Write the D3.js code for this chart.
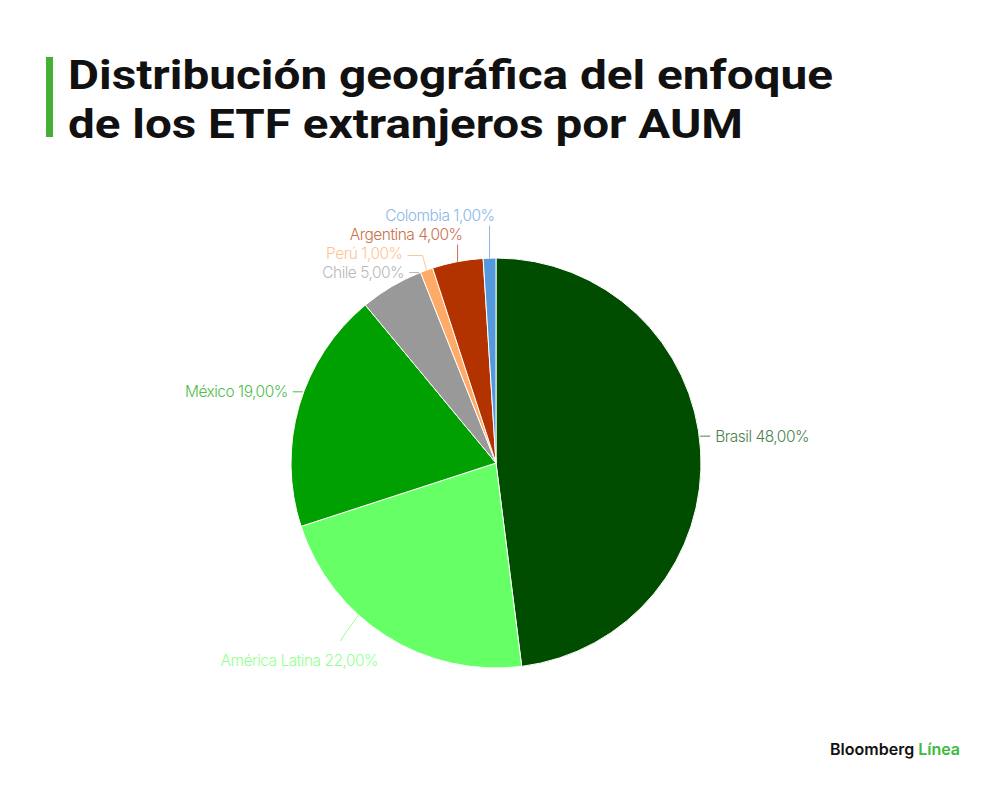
<!DOCTYPE html>
<html>
<head>
<meta charset="utf-8">
<script src="https://cdn.jsdelivr.net/npm/d3@7"></script>
<style>
  body { margin: 0; background: #fff; }
  svg { display: block; }
</style>
</head>
<body>
<svg width="1000" height="790"></svg>
<script>
// chart data, clockwise from 12 o'clock
var categories = ["Brasil", "América Latina", "México", "Chile", "Perú", "Argentina", "Colombia"];
var values = [48, 22, 19, 5, 1, 4, 1];
var colors = ["#004d00", "#66ff66", "#00a000", "#999999", "#ffaa66", "#b33300", "#5599dd"];
var titleLines = ["Distribución geográfica del enfoque", "de los ETF extranjeros por AUM"];

var svg = d3.select("svg"),
    cx = 496, cy = 463, r = 205;

// number format with comma decimals
var fmt = d3.formatLocale({decimal: ",", thousands: ".", grouping: [3], currency: ["", ""]}).format(".2f");

// title + green bar
svg.append("rect").attr("x", 46).attr("y", 57).attr("width", 7).attr("height", 80).attr("fill", "#45b035");
svg.selectAll(".title")
  .data(titleLines)
  .enter().append("text")
    .attr("class", "title")
    .attr("x", 68)
    .attr("y", function(d, i) { return 89 + i * 49; })
    .attr("font-family", "Roboto, sans-serif")
    .attr("font-weight", 700)
    .attr("font-size", 41)
    .attr("fill", "#111")
    .attr("textLength", function(d, i) { return i == 0 ? 765 : 675; })
    .attr("lengthAdjust", "spacingAndGlyphs")
    .text(function(d) { return d; });

var data = categories.map(function(c, i) { return {name: c, value: values[i], color: colors[i]}; });

var pie = d3.pie().sort(null).value(function(d) { return d.value; });
var arc = d3.arc().innerRadius(0).outerRadius(r);
var arcs = pie(data);

var g = svg.append("g").attr("transform", "translate(" + cx + "," + cy + ")");

g.selectAll("path")
  .data(arcs)
  .enter().append("path")
    .attr("d", arc)
    .attr("fill", function(d) { return d.data.color; })
    .attr("stroke", "#fff")
    .attr("stroke-width", 1);

//LABELS
function lighter(c) { return d3.interpolateRgb(c, "#fff")(0.3); }

arcs.forEach(function(a) {
  var mid = (a.startAngle + a.endAngle) / 2;
  a.mid = mid;
  a.px = r * Math.sin(mid);
  a.py = -r * Math.cos(mid);
  a.right = Math.sin(mid) >= 0;
  a.bottom = a.py > 0.7 * r;
  a.ly = a.bottom ? a.py + 24 : a.py - 14;
});

// stack left side labels upwards so they don't overlap
var left = arcs.filter(function(a) { return !a.right && !a.bottom; })
  .sort(function(a, b) { return b.ly - a.ly; });
for (var i = 1; i < left.length; i++) {
  left[i].ly = Math.min(left[i].ly, left[i - 1].ly - 19);
}

var lab = g.append("g")
  .attr("font-family", "Inter, sans-serif")
  .attr("font-weight", 300)
  .attr("font-size", 15.5)
  .attr("letter-spacing", "-0.5");

arcs.forEach(function(a) {
  var col = lighter(a.data.color);
  var txt = a.data.name + " " + fmt(a.data.value) + "%";
  var y = a.ly, lx, anchor, path;

  if (a.bottom) {
    var s = a.mid + 0.17;
    var sx = r * Math.sin(s), sy = -r * Math.cos(s);
    path = [[sx, sy], [sx - 15, sy + 21], [sx - 18, sy + 26]];
    lx = a.px - 8; anchor = "end";
  } else {
    // angle of the pie edge at label height
    var ex = Math.sqrt(Math.max(0, r * r - y * y));
    var ang = a.right ? Math.atan2(ex, -y) : 2 * Math.PI - Math.atan2(ex, -y);
    var inside = Math.abs(y) < r - 5 && ang >= a.startAngle && ang <= a.endAngle;
    if (inside) {
      var dir = a.right ? 1 : -1;
      path = [[dir * (ex + 1), y], [dir * (ex + 11), y]];
      lx = dir * (ex + 16); anchor = a.right ? "start" : "end";
    } else if (a.py - y >= 22) {
      path = [[a.px, y + 10], [a.px, a.py]];
      lx = a.px + 5; anchor = "end";
    } else {
      lx = a.px - 24; anchor = "end";
      path = [[lx + 5, y + 2], [a.px - 4, y + 2], [a.px, a.py]];
    }
  }

  lab.append("path")
    .attr("d", d3.line()(path))
    .attr("fill", "none")
    .attr("stroke", col)
    .attr("stroke-width", 1);

  lab.append("text")
    .attr("x", lx)
    .attr("y", y)
    .attr("dy", "0.35em")
    .attr("text-anchor", anchor)
    .attr("fill", col)
    .text(txt);
});

// logo
var logo = svg.append("text")
  .attr("x", 960)
  .attr("y", 755)
  .attr("text-anchor", "end")
  .attr("font-family", "Inter, sans-serif")
  .attr("font-weight", 600)
  .attr("font-size", 16);
logo.append("tspan").attr("fill", "#111").text("Bloomberg ");
logo.append("tspan").attr("fill", "#3cba3c").text("Línea");
</script>
</body>
</html>
